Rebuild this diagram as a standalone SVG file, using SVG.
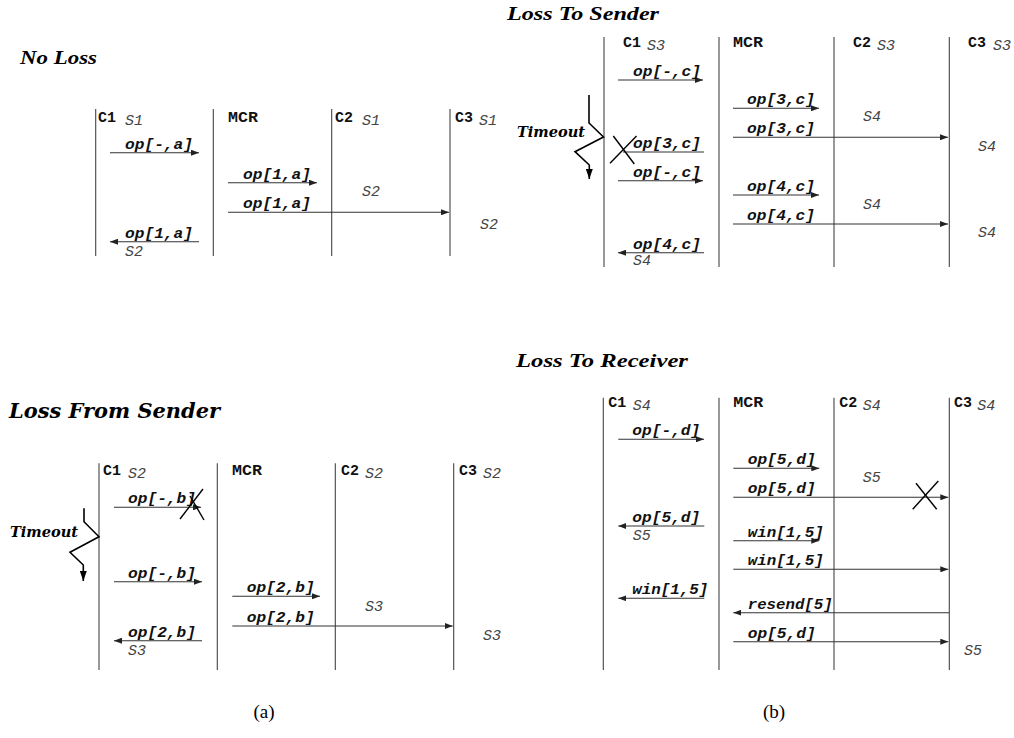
<svg xmlns="http://www.w3.org/2000/svg" width="1014" height="738" viewBox="0 0 1014 738">
<defs>
<marker id="ah" markerWidth="8" markerHeight="6" refX="8" refY="3" orient="auto" markerUnits="userSpaceOnUse"><path d="M0,0 L8,3 L0,6 z" fill="#222"/></marker>
<marker id="zh" markerWidth="7" markerHeight="10" refX="3.5" refY="10" orient="0" markerUnits="userSpaceOnUse"><path d="M0,0 L7,0 L3.5,10 z" fill="#000"/></marker>
<style>
.ll{stroke:#444;stroke-width:1.1;fill:none}
.ar{stroke:#333;stroke-width:1.1;fill:none;marker-end:url(#ah)}
.lost{stroke:#333;stroke-width:1.1;fill:none}
.x{stroke:#000;stroke-width:1.4;fill:none}
.z{stroke:#000;stroke-width:1.6;fill:none;marker-end:url(#zh)}
.m{font-family:"Liberation Mono",monospace;font-weight:bold;font-style:italic;font-size:15px;fill:#111}
.h{font-family:"Liberation Mono",monospace;font-weight:bold;font-size:14px;fill:#111}
.s{font-family:"Liberation Mono",monospace;font-style:italic;font-size:14px;fill:#444}
.t{font-family:"Liberation Serif",serif;font-weight:bold;font-style:italic;font-size:19px;fill:#000}
.c{font-family:"DejaVu Serif",serif;font-weight:bold;font-style:italic;fill:#000}
.cap{font-family:"Liberation Serif",serif;font-size:19px;fill:#000}
</style>
</defs>
<rect width="1014" height="738" fill="#fff"/>

<!-- Panel 1: No Loss -->
<text class="t" x="20" y="64" textLength="77" lengthAdjust="spacingAndGlyphs">No Loss</text>
<g id="p1-c1"><line class="ll" x1="95.7" y1="109" x2="95.7" y2="256"/><text class="h" x="98" y="122" textLength="18" lengthAdjust="spacingAndGlyphs">C1</text><text class="s" x="125" y="125" textLength="18" lengthAdjust="spacingAndGlyphs">S1</text><text class="s" x="125" y="256" textLength="18" lengthAdjust="spacingAndGlyphs">S2</text></g>
<g id="p1-mcr"><line class="ll" x1="213.3" y1="109" x2="213.3" y2="256"/><text class="h" x="228" y="122" textLength="30" lengthAdjust="spacingAndGlyphs">MCR</text></g>
<g id="p1-c2"><line class="ll" x1="331.7" y1="109" x2="331.7" y2="256"/><text class="h" x="335" y="122" textLength="18" lengthAdjust="spacingAndGlyphs">C2</text><text class="s" x="362" y="125" textLength="18" lengthAdjust="spacingAndGlyphs">S1</text><text class="s" x="362" y="196" textLength="18" lengthAdjust="spacingAndGlyphs">S2</text></g>
<g id="p1-c3"><line class="ll" x1="450" y1="109" x2="450" y2="256"/><text class="h" x="455" y="122" textLength="18" lengthAdjust="spacingAndGlyphs">C3</text><text class="s" x="479" y="125" textLength="18" lengthAdjust="spacingAndGlyphs">S1</text><text class="s" x="480" y="229" textLength="18" lengthAdjust="spacingAndGlyphs">S2</text></g>
<g id="p1-connectors">
<line class="ar" x1="110" y1="152.7" x2="199" y2="152.7"/><text class="m" x="125" y="148.5" textLength="68" lengthAdjust="spacingAndGlyphs">op[-,a]</text>
<line class="ar" x1="228" y1="182.7" x2="317" y2="182.7"/><text class="m" x="243" y="178.5" textLength="68" lengthAdjust="spacingAndGlyphs">op[1,a]</text>
<line class="ar" x1="228" y1="212.3" x2="449" y2="212.3"/><text class="m" x="243" y="208" textLength="68" lengthAdjust="spacingAndGlyphs">op[1,a]</text>
<line class="ar" x1="199" y1="241.7" x2="110" y2="241.7"/><text class="m" x="125" y="237.5" textLength="68" lengthAdjust="spacingAndGlyphs">op[1,a]</text>
</g>

<!-- Panel 2: Loss To Sender -->
<text class="t" x="507" y="20" textLength="152" lengthAdjust="spacingAndGlyphs">Loss To Sender</text>
<g id="p2-c1"><line class="ll" x1="604" y1="37" x2="604" y2="267"/><text class="h" x="623" y="47" textLength="18" lengthAdjust="spacingAndGlyphs">C1</text><text class="s" x="647" y="50" textLength="18" lengthAdjust="spacingAndGlyphs">S3</text><text class="s" x="633" y="265" textLength="18" lengthAdjust="spacingAndGlyphs">S4</text></g>
<g id="p2-mcr"><line class="ll" x1="719" y1="37" x2="719" y2="267"/><text class="h" x="733" y="47" textLength="30" lengthAdjust="spacingAndGlyphs">MCR</text></g>
<g id="p2-c2"><line class="ll" x1="834" y1="37" x2="834" y2="267"/><text class="h" x="853" y="47" textLength="18" lengthAdjust="spacingAndGlyphs">C2</text><text class="s" x="877" y="50" textLength="18" lengthAdjust="spacingAndGlyphs">S3</text><text class="s" x="863" y="121" textLength="18" lengthAdjust="spacingAndGlyphs">S4</text><text class="s" x="863" y="208.5" textLength="18" lengthAdjust="spacingAndGlyphs">S4</text></g>
<g id="p2-c3"><line class="ll" x1="949.3" y1="37" x2="949.3" y2="267"/><text class="h" x="968" y="47" textLength="18" lengthAdjust="spacingAndGlyphs">C3</text><text class="s" x="993" y="50" textLength="18" lengthAdjust="spacingAndGlyphs">S3</text><text class="s" x="978" y="151" textLength="18" lengthAdjust="spacingAndGlyphs">S4</text><text class="s" x="978" y="236.5" textLength="18" lengthAdjust="spacingAndGlyphs">S4</text></g>
<g id="p2-timeout"><polyline class="z" points="589,95 589,123 603.5,137 575,151.7 589.3,165 589.3,179"/><text class="c" x="517" y="137.3" font-size="15" textLength="68" lengthAdjust="spacingAndGlyphs">Timeout</text></g>
<g id="p2-connectors">
<line class="ar" x1="618" y1="80" x2="703" y2="80"/><text class="m" x="633" y="76" textLength="68" lengthAdjust="spacingAndGlyphs">op[-,c]</text>
<line class="ar" x1="733" y1="108.3" x2="819" y2="108.3"/><text class="m" x="747" y="104" textLength="68" lengthAdjust="spacingAndGlyphs">op[3,c]</text>
<line class="ar" x1="733" y1="137.3" x2="948" y2="137.3"/><text class="m" x="747" y="133" textLength="68" lengthAdjust="spacingAndGlyphs">op[3,c]</text>
<line class="lost" x1="704" y1="152" x2="623" y2="152"/><text class="m" x="633" y="148" textLength="68" lengthAdjust="spacingAndGlyphs">op[3,c]</text>
<line class="x" x1="613.3" y1="136" x2="634.3" y2="164"/><line class="x" x1="610" y1="163.3" x2="636.5" y2="136"/>
<line class="ar" x1="618" y1="180.7" x2="703" y2="180.7"/><text class="m" x="633" y="176.5" textLength="68" lengthAdjust="spacingAndGlyphs">op[-,c]</text>
<line class="ar" x1="733" y1="195" x2="819" y2="195"/><text class="m" x="747" y="191" textLength="68" lengthAdjust="spacingAndGlyphs">op[4,c]</text>
<line class="ar" x1="733" y1="224" x2="948" y2="224"/><text class="m" x="747" y="220" textLength="68" lengthAdjust="spacingAndGlyphs">op[4,c]</text>
<line class="ar" x1="704" y1="252.7" x2="618" y2="252.7"/><text class="m" x="633" y="248.5" textLength="68" lengthAdjust="spacingAndGlyphs">op[4,c]</text>
</g>

<!-- Panel 3: Loss From Sender -->
<text class="c" x="9" y="418" font-size="21" textLength="211" lengthAdjust="spacingAndGlyphs">Loss From Sender</text>
<g id="p3-c1"><line class="ll" x1="99" y1="463.3" x2="99" y2="670"/><text class="h" x="103" y="475" textLength="18" lengthAdjust="spacingAndGlyphs">C1</text><text class="s" x="128" y="478" textLength="18" lengthAdjust="spacingAndGlyphs">S2</text><text class="s" x="128" y="655" textLength="18" lengthAdjust="spacingAndGlyphs">S3</text></g>
<g id="p3-mcr"><line class="ll" x1="217.3" y1="463.3" x2="217.3" y2="670"/><text class="h" x="232" y="475" textLength="30" lengthAdjust="spacingAndGlyphs">MCR</text></g>
<g id="p3-c2"><line class="ll" x1="335.3" y1="463.3" x2="335.3" y2="670"/><text class="h" x="341" y="475" textLength="18" lengthAdjust="spacingAndGlyphs">C2</text><text class="s" x="365" y="478" textLength="18" lengthAdjust="spacingAndGlyphs">S2</text><text class="s" x="365" y="611" textLength="18" lengthAdjust="spacingAndGlyphs">S3</text></g>
<g id="p3-c3"><line class="ll" x1="453.7" y1="463.3" x2="453.7" y2="670"/><text class="h" x="459" y="475" textLength="18" lengthAdjust="spacingAndGlyphs">C3</text><text class="s" x="483" y="478" textLength="18" lengthAdjust="spacingAndGlyphs">S2</text><text class="s" x="483" y="640" textLength="18" lengthAdjust="spacingAndGlyphs">S3</text></g>
<g id="p3-timeout"><polyline class="z" points="84,508.3 84,521.7 99,536.7 70,552.3 83.3,565 83.3,581"/><text class="c" x="10" y="537" font-size="15" textLength="68" lengthAdjust="spacingAndGlyphs">Timeout</text></g>
<g id="p3-connectors">
<line class="ar" x1="114" y1="507.3" x2="201" y2="507.3"/><text class="m" x="128" y="503" textLength="68" lengthAdjust="spacingAndGlyphs">op[-,b]</text>
<line class="x" x1="180" y1="519" x2="203" y2="489"/><line class="x" x1="190" y1="496" x2="204" y2="520"/>
<line class="ar" x1="114" y1="581.7" x2="202" y2="581.7"/><text class="m" x="128" y="577.5" textLength="68" lengthAdjust="spacingAndGlyphs">op[-,b]</text>
<line class="ar" x1="232.3" y1="596.3" x2="320" y2="596.3"/><text class="m" x="246.7" y="592" textLength="68" lengthAdjust="spacingAndGlyphs">op[2,b]</text>
<line class="ar" x1="232.3" y1="626" x2="452.7" y2="626"/><text class="m" x="246.7" y="622" textLength="68" lengthAdjust="spacingAndGlyphs">op[2,b]</text>
<line class="ar" x1="202" y1="640.7" x2="114" y2="640.7"/><text class="m" x="128" y="636.5" textLength="68" lengthAdjust="spacingAndGlyphs">op[2,b]</text>
</g>

<!-- Panel 4: Loss To Receiver -->
<text class="t" x="516" y="367" textLength="172" lengthAdjust="spacingAndGlyphs">Loss To Receiver</text>
<g id="p4-c1"><line class="ll" x1="603.3" y1="397.7" x2="603.3" y2="670"/><text class="h" x="608.3" y="407" textLength="18" lengthAdjust="spacingAndGlyphs">C1</text><text class="s" x="632.7" y="410" textLength="18" lengthAdjust="spacingAndGlyphs">S4</text><text class="s" x="632.7" y="540" textLength="18" lengthAdjust="spacingAndGlyphs">S5</text></g>
<g id="p4-mcr"><line class="ll" x1="719" y1="397.7" x2="719" y2="670"/><text class="h" x="733.3" y="407" textLength="30" lengthAdjust="spacingAndGlyphs">MCR</text></g>
<g id="p4-c2"><line class="ll" x1="834" y1="397.7" x2="834" y2="670"/><text class="h" x="839.3" y="407" textLength="18" lengthAdjust="spacingAndGlyphs">C2</text><text class="s" x="862.7" y="410" textLength="18" lengthAdjust="spacingAndGlyphs">S4</text><text class="s" x="862.7" y="481.7" textLength="18" lengthAdjust="spacingAndGlyphs">S5</text></g>
<g id="p4-c3"><line class="ll" x1="949.3" y1="397.7" x2="949.3" y2="670"/><text class="h" x="954" y="407" textLength="18" lengthAdjust="spacingAndGlyphs">C3</text><text class="s" x="977.3" y="410" textLength="18" lengthAdjust="spacingAndGlyphs">S4</text><text class="s" x="964" y="655" textLength="18" lengthAdjust="spacingAndGlyphs">S5</text></g>
<g id="p4-connectors">
<line class="ar" x1="618.3" y1="439.3" x2="704" y2="439.3"/><text class="m" x="632.3" y="435" textLength="68" lengthAdjust="spacingAndGlyphs">op[-,d]</text>
<line class="ar" x1="733.3" y1="468.3" x2="819.3" y2="468.3"/><text class="m" x="747.7" y="464" textLength="68" lengthAdjust="spacingAndGlyphs">op[5,d]</text>
<line class="ar" x1="733.3" y1="497.3" x2="948.3" y2="497.3"/><text class="m" x="747.7" y="493" textLength="68" lengthAdjust="spacingAndGlyphs">op[5,d]</text>
<line class="x" x1="912.7" y1="509.3" x2="938.3" y2="481"/><line class="x" x1="916" y1="483.3" x2="936.7" y2="509.3"/>
<line class="ar" x1="704.3" y1="526" x2="618.3" y2="526"/><text class="m" x="632.3" y="522" textLength="68" lengthAdjust="spacingAndGlyphs">op[5,d]</text>
<line class="ar" x1="733.3" y1="540.7" x2="819.3" y2="540.7"/><text class="m" x="747.7" y="536.5" textLength="76" lengthAdjust="spacingAndGlyphs">win[1,5]</text>
<line class="ar" x1="733.3" y1="569.3" x2="948.3" y2="569.3"/><text class="m" x="747.7" y="565" textLength="76" lengthAdjust="spacingAndGlyphs">win[1,5]</text>
<line class="ar" x1="704.3" y1="598.3" x2="618.3" y2="598.3"/><text class="m" x="632.3" y="594" textLength="76" lengthAdjust="spacingAndGlyphs">win[1,5]</text>
<line class="ar" x1="949" y1="612.7" x2="733.3" y2="612.7"/><text class="m" x="747.7" y="608.5" textLength="85" lengthAdjust="spacingAndGlyphs">resend[5]</text>
<line class="ar" x1="733.3" y1="641.7" x2="948.3" y2="641.7"/><text class="m" x="747.7" y="637.5" textLength="68" lengthAdjust="spacingAndGlyphs">op[5,d]</text>
</g>

<text class="cap" x="264" y="718" text-anchor="middle">(a)</text>
<text class="cap" x="774" y="718" text-anchor="middle">(b)</text>
</svg>
